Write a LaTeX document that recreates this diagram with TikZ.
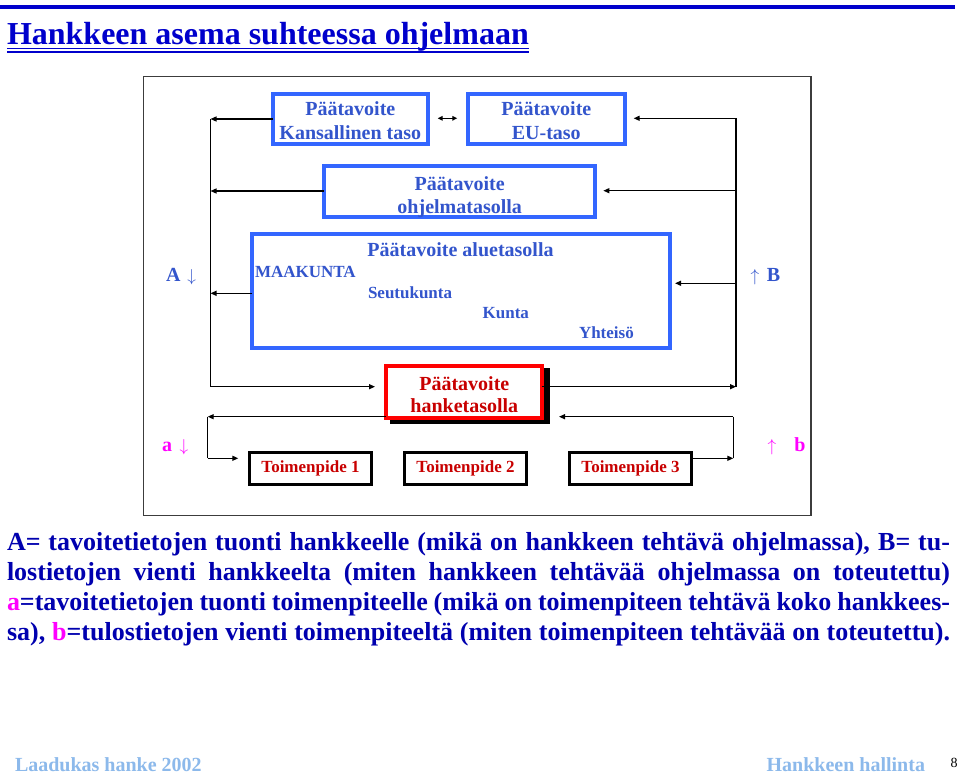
\documentclass[tikz,border=0pt]{standalone}
\usepackage{fontspec}
\setmainfont{Liberation Serif}
\usetikzlibrary{arrows.meta}
\definecolor{titleblue}{RGB}{0,0,204}
\definecolor{parablue}{RGB}{0,0,175}
\definecolor{boxblue}{RGB}{51,102,255}
\definecolor{txtblue}{RGB}{51,85,204}
\definecolor{darkred}{RGB}{200,0,0}
\definecolor{brightred}{RGB}{255,0,0}
\definecolor{mag}{RGB}{255,0,255}
\definecolor{footblue}{RGB}{140,185,235}
\definecolor{framegray}{RGB}{60,60,60}
\tikzset{
  every node/.style={inner sep=0pt, outer sep=0pt},
  bluebox/.style={draw=boxblue, line width=4pt, fill=white},
  boxtxt/.style={anchor=base, text=txtblue, font=\bfseries\fontsize{20}{24}\selectfont},
  redtxt/.style={anchor=base, text=darkred, font=\bfseries\fontsize{20}{24}\selectfont},
  toimbox/.style={draw=black, line width=3pt, fill=white, text=darkred, align=center,
    font=\bfseries\fontsize{17}{20}\selectfont, minimum width=122.6pt, minimum height=32.3pt},
  smalltxt/.style={text=txtblue, font=\bfseries\fontsize{17}{20}\selectfont, anchor=base west},
  plainline/.style={line width=1.3pt, draw=black},
  conn/.style={line width=1.3pt, draw=black, -{Triangle[length=6pt,width=5pt]}},
  lbl/.style={anchor=base, font=\bfseries\fontsize{20}{24}\selectfont},
  arr/.style={anchor=base, font=\fontsize{18}{22}\selectfont},
  paraline/.style={anchor=base west, text=parablue, font=\bfseries\fontsize{26}{30}\selectfont}
}
\begin{document}
\begin{tikzpicture}[x=1pt,y=-1pt]
\useasboundingbox (0,0) rectangle (960,776);
\fill[white] (0,0) rectangle (960,776);
% top rule and title
\draw[titleblue, line width=4.3pt] (0,7.2) -- (955,7.2);
\node[anchor=base west, text=titleblue, font=\bfseries\fontsize{32}{36}\selectfont] (title) at (7,44.3) {Hankkeen asema suhteessa ohjelmaan};
\draw[titleblue, line width=1.6pt] ([yshift=-4.3pt]title.base west) -- ([yshift=-4.3pt]title.base east);
\draw[titleblue, line width=1.6pt] ([yshift=-7.5pt]title.base west) -- ([yshift=-7.5pt]title.base east);
% frame
\draw[framegray, line width=1.5pt] (143.5,76.5) rectangle (811,515.5);
% boxes
\node[bluebox, minimum width=155.3pt, minimum height=50.3pt] (kans) at (350.3,118.85) {};
\node[boxtxt] (kans1) at (350.3,115.7) {Päätavoite};
\node[boxtxt] (kans2) at (350.3,139.3) {Kansallinen taso};
\node[bluebox, minimum width=156.7pt, minimum height=50pt] (eu) at (546.3,119) {};
\node[boxtxt] (eu1) at (546.3,115.7) {Päätavoite};
\node[boxtxt] (eu2) at (546.3,139.3) {EU-taso};
\node[bluebox, minimum width=271.3pt, minimum height=51.3pt] (ohj) at (459.7,191.7) {};
\node[boxtxt] (ohj1) at (459.7,190) {Päätavoite};
\node[boxtxt] (ohj2) at (459.7,213.5) {ohjelmatasolla};
\node[bluebox, minimum width=418.3pt, minimum height=114.3pt] (alue) at (461.2,290.9) {};
\node[boxtxt] (aluet) at (460.5,256.7) {Päätavoite aluetasolla};
\node[smalltxt] (maak) at (255,277.3) {MAAKUNTA};
\node[smalltxt] (seut) at (368,298.3) {Seutukunta};
\node[smalltxt] (kunta) at (482.7,318.3) {Kunta};
\node[smalltxt] (yht) at (579,338.3) {Yhteisö};
% red box with shadow
\fill[black] (390,368) rectangle (550,424);
\node[draw=brightred, line width=4pt, fill=white, minimum width=156pt, minimum height=51.7pt] (red) at (464.3,392.2) {};
\node[redtxt] (red1) at (464.3,390) {Päätavoite};
\node[redtxt] (red2) at (464.3,412.7) {hanketasolla};
% toimenpide boxes
\node[toimbox] (t1) at (310.5,468.3) {Toimenpide 1};
\node[toimbox] (t2) at (465.5,468.3) {Toimenpide 2};
\node[toimbox] (t3) at (630.5,468.3) {Toimenpide 3};
% coordinates
\coordinate (L1) at (210.5,119);
\coordinate (L2) at (210.5,191);
\coordinate (L3) at (210.5,293.3);
\coordinate (L4) at (210.5,386.7);
\coordinate (R1) at (736,118.3);
\coordinate (R2) at (736,190.7);
\coordinate (R3) at (736,283.3);
\coordinate (R4) at (736,386.7);
\coordinate (LL1) at (207.7,416.7);
\coordinate (LL2) at (207.7,458.3);
\coordinate (RR1) at (733.3,458.3);
\coordinate (RR2) at (733.3,416.7);
% left side
\draw[conn] (kans.west |- L1) -- (L1);
\draw[conn] (ohj.west |- L2) -- (L2);
\draw[conn] (alue.west |- L3) -- (L3);
\draw[plainline] (L1) -- (L4);
\draw[conn, shorten >=11.3pt] (L4) -- (L4 -| red.west);
% right side
\draw[plainline] (R1) -- (R4);
\draw[conn, shorten >=9pt] (R1) -- (R1 -| eu.east);
\draw[conn, shorten >=8pt] (R2) -- (R2 -| ohj.east);
\draw[conn, shorten >=4.7pt] (R3) -- (R3 -| alue.east);
\draw[conn] (R4 -| red.east) -- (R4);
% double arrow
\draw[line width=1.3pt, {Triangle[length=5pt,width=4.5pt]}-{Triangle[length=5pt,width=4.5pt]}, shorten <=9.7pt, shorten >=10.7pt] (kans.east |- R1) -- (eu.west |- R1);
% lower loops
\draw[conn] (red.west |- LL1) -- (LL1);
\draw[plainline] (LL1) -- (LL2);
\draw[conn, shorten >=10.9pt] (LL2) -- (LL2 -| t1.west);
\draw[conn] (t3.east |- RR1) -- (RR1);
\draw[plainline] (RR1) -- (RR2);
\draw[conn, shorten >=16.7pt] (RR2) -- (RR2 -| red.east);
% side labels
\node[lbl, text=txtblue] (labA) at (173.3,281.7) {A};
\node[arr, text=txtblue] (arrA) at (191.7,281.7) {$\downarrow$};
\node[arr, text=txtblue] (arrB) at (755,281.7) {$\uparrow$};
\node[lbl, text=txtblue] (labB) at (773.5,281.7) {B};
\node[lbl, text=mag] (laba) at (167.2,451.7) {a};
\node[arr, text=mag] (arra) at (184,451.7) {$\downarrow$};
\node[arr, text=mag] (arrb) at (772,451.7) {$\uparrow$};
\node[lbl, text=mag] (labb) at (800,451.7) {b};
% paragraph
\node[paraline] (p1) at (7,550.7) {\makebox[943pt][s]{A= tavoitetietojen tuonti hankkeelle (mikä on hankkeen tehtävä ohjelmassa), B= tu-}};
\node[paraline] (p2) at (7,580.7) {\makebox[943pt][s]{lostietojen vienti hankkeelta (miten hankkeen tehtävää ohjelmassa on toteutettu)}};
\node[paraline] (p3) at (7,610.7) {\makebox[943pt][s]{\textcolor{mag}{a}=tavoitetietojen tuonti toimenpiteelle (mikä on toimenpiteen tehtävä koko hankkees-}};
\node[paraline] (p4) at (7,640.7) {\makebox[943pt][s]{sa), \textcolor{mag}{b}=tulostietojen vienti toimenpiteeltä (miten toimenpiteen tehtävää on toteutettu).}};
% footer
\node[anchor=base west, text=footblue, font=\bfseries\fontsize{20}{24}\selectfont] (foot1) at (15,771.5) {Laadukas hanke 2002};
\node[anchor=base east, text=footblue, font=\bfseries\fontsize{20}{24}\selectfont] (foot2) at (925,771.5) {Hankkeen hallinta};
\node[anchor=base, text=black, font=\fontsize{14}{16}\selectfont] (pnum) at (954,767) {8};
\end{tikzpicture}
\end{document}
